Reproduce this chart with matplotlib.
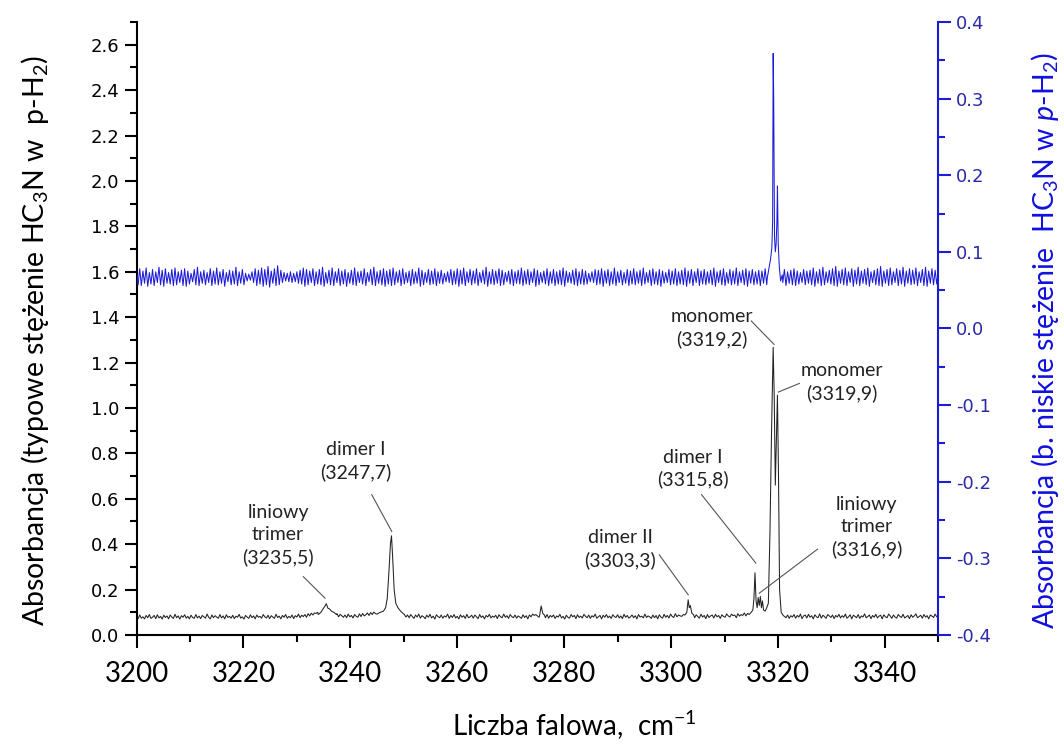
import numpy as np
import matplotlib
matplotlib.use("Agg")
import matplotlib.pyplot as plt
from matplotlib.ticker import MultipleLocator, FormatStrFormatter

plt.rcParams['font.family'] = ['Lato', 'DejaVu Sans']
plt.rcParams['mathtext.fontset'] = 'custom'
plt.rcParams['mathtext.rm'] = 'Lato'
plt.rcParams['mathtext.it'] = 'Lato:italic'

wn_start, wn_stop = 3200.0, 3350.0

# baseline read every 0.3 cm-1, in milli-absorbance (left axis, typical conc.)
black_baseline = [
    84, 72, 88, 74, 80, 71, 86, 76, 90, 73,
    78, 86, 72, 89, 75, 82, 70, 87, 77, 84,
    71, 88, 79, 73, 91, 76, 84, 70, 85, 78,
    89, 74, 82, 71, 87, 77, 73, 90, 75, 83,
    72, 86, 80, 74, 92, 78, 71, 88, 76, 85,
    79, 73, 90, 75, 84, 71, 89, 77, 82, 74,
    87, 72, 83, 78, 91, 74, 80, 70, 86, 79,
    73, 89, 76, 84, 71, 88, 78, 82, 74, 90,
    80, 75, 87, 72, 85, 79, 73, 91, 77, 83,
    71, 86, 78, 90, 74, 82, 76, 88, 72, 85,
    79, 92, 76, 87, 81, 90, 78, 94, 84, 96,
    88, 97, 95, 100, 110, 130, 140, 120, 115, 105,
    110, 100, 98, 95, 84, 94, 80, 91, 85, 78,
    88, 76, 92, 80, 86, 75, 90, 82, 78, 93,
    81, 95, 84, 89, 97, 86, 99, 90, 101, 94,
    95, 98, 105, 130, 250, 400, 300, 150, 120, 105,
    110, 102, 98, 95, 92, 89, 86, 91, 79, 88,
    76, 90, 81, 73, 88, 79, 92, 74, 85, 80,
    72, 87, 78, 91, 75, 83, 70, 89, 81, 76,
    88, 74, 84, 79, 92, 73, 86, 77, 90, 75,
    82, 71, 89, 78, 85, 73, 91, 76, 80, 87,
    74, 88, 80, 72, 90, 77, 84, 71, 86, 79,
    91, 75, 83, 78, 87, 72, 89, 80, 76, 92,
    78, 85, 73, 90, 81, 76, 88, 74, 84, 79,
    73, 89, 77, 85, 71, 88, 80, 92, 86, 90,
    84, 78, 120, 88, 81, 76, 90, 74, 86, 79,
    88, 73, 84, 79, 91, 75, 82, 70, 87, 78,
    74, 90, 80, 86, 72, 89, 77, 83, 75, 91,
    82, 76, 88, 73, 85, 79, 92, 74, 80, 86,
    71, 87, 78, 90, 76, 83, 73, 89, 81, 77,
    89, 75, 84, 72, 91, 78, 86, 74, 80, 88,
    76, 85, 71, 90, 79, 83, 75, 92, 77, 84,
    80, 73, 88, 76, 86, 71, 89, 79, 74, 91,
    78, 86, 75, 92, 82, 77, 94, 80, 88, 84,
    82, 90, 140, 120, 95, 88, 84, 91, 76, 89,
    81, 74, 92, 79, 86, 72, 90, 77, 84, 88,
    75, 91, 80, 86, 73, 89, 82, 78, 93, 84,
    79, 92, 85, 88, 76, 94, 83, 90, 86, 97,
    84, 95, 95, 130, 200, 160, 150, 160, 140, 150,
    140, 150, 300, 900, 1200, 700, 1000, 500, 150, 100,
    100, 95, 90, 85, 82, 76, 88, 73, 85, 79,
    90, 74, 86, 79, 92, 72, 84, 88, 75, 91,
    78, 85, 71, 89, 80, 76, 93, 74, 87, 81,
    73, 90, 84, 77, 88, 72, 86, 79, 91, 75,
    85, 78, 92, 74, 80, 89, 71, 87, 82, 76,
    90, 73, 84, 79, 93, 76, 81, 88, 72, 86,
    78, 91, 75, 83, 87, 71, 89, 80, 76, 92,
    84, 73, 88, 79, 74, 90, 82, 77, 91, 75,
    80, 86, 72, 89, 78, 84, 93, 76, 81, 87,
    74, 90, 79, 85, 71, 88, 83, 77, 92, 80,
    84,
]

# baseline read every 0.3 cm-1, in milli-absorbance (right axis, low conc.)
blue_baseline = [
    74, 57, 78, 56, 75, 59, 79, 55, 73, 58,
    77, 56, 74, 60, 80, 57, 76, 55, 78, 59,
    73, 58, 77, 56, 79, 57, 74, 60, 76, 56,
    78, 55, 75, 58, 72, 61, 77, 57, 80, 56,
    74, 59, 76, 57, 73, 60, 78, 56, 75, 58,
    79, 57, 74, 59, 77, 55, 73, 61, 76, 57,
    75, 58, 80, 56, 74, 59, 77, 57, 72, 62,
    71, 63, 74, 60, 78, 56, 76, 58, 79, 55,
    77, 57, 81, 54, 75, 59, 78, 56, 82, 57,
    76, 60, 73, 62, 72, 61, 74, 60, 72, 61,
    74, 59, 76, 58, 79, 55, 77, 57, 75, 60,
    78, 56, 74, 58, 77, 57, 80, 55, 73, 59,
    76, 57, 79, 56, 74, 60, 78, 56, 75, 58,
    77, 55, 73, 59, 76, 57, 79, 56, 74, 60,
    75, 58, 78, 56, 73, 61, 77, 57, 80, 56,
    74, 59, 76, 57, 78, 55, 75, 58, 77, 56,
    79, 57, 74, 60, 76, 56, 78, 58, 73, 60,
    75, 56, 77, 58, 74, 59, 79, 55, 76, 57,
    73, 60, 77, 57, 75, 58, 78, 56, 74, 59,
    76, 58, 72, 61, 74, 60, 77, 57, 75, 58,
    78, 55, 76, 58, 79, 56, 74, 60, 77, 57,
    75, 59, 78, 56, 73, 60, 76, 58, 80, 55,
    74, 58, 77, 57, 75, 59, 78, 56, 76, 57,
    73, 61, 75, 58, 77, 56, 74, 59, 76, 58,
    79, 56, 75, 58, 77, 57, 74, 60, 78, 55,
    76, 57, 73, 60, 75, 58, 78, 56, 74, 59,
    77, 56, 74, 58, 76, 57, 79, 55, 75, 60,
    73, 59, 76, 57, 78, 56, 74, 58, 77, 57,
    75, 58, 72, 61, 74, 60, 77, 57, 76, 58,
    78, 55, 75, 59, 77, 56, 74, 58, 79, 56,
    74, 60, 76, 57, 73, 59, 77, 56, 75, 58,
    78, 57, 74, 59, 76, 56, 79, 58, 73, 60,
    76, 56, 78, 58, 74, 57, 77, 55, 75, 59,
    73, 60, 77, 57, 75, 58, 78, 56, 74, 58,
    76, 57, 79, 55, 75, 59, 77, 56, 74, 60,
    78, 56, 75, 58, 77, 57, 74, 59, 76, 57,
    79, 55, 74, 60, 76, 57, 78, 56, 73, 59,
    77, 57, 75, 58, 79, 56, 74, 60, 76, 57,
    78, 55, 75, 59, 77, 57, 74, 58, 76, 56,
    75, 59, 78, 57, 74, 60, 72, 63, 70, 68,
    70, 66, 72, 60, 77, 56, 74, 59, 76, 57,
    78, 56, 75, 58, 73, 60, 77, 57, 75, 59,
    76, 57, 79, 55, 74, 59, 77, 56, 80, 57,
    74, 60, 76, 58, 78, 56, 81, 55, 75, 59,
    77, 57, 79, 56, 74, 60, 78, 55, 76, 58,
    80, 56, 75, 59, 77, 57, 79, 55, 74, 60,
    76, 57, 78, 56, 81, 55, 75, 59, 77, 56,
    79, 57, 74, 60, 78, 56, 76, 58, 80, 55,
    75, 59, 78, 57, 76, 58, 79, 56, 74, 60,
    77, 56, 80, 55, 75, 59, 78, 57, 76, 58,
    74,
]

# peak outlines (cm-1, absorbance)
trimer_3235_x = [3234.0, 3234.5, 3234.9, 3235.2, 3235.5, 3235.8, 3236.1, 3236.5, 3236.9, 3237.4]
trimer_3235_y = [0.09, 0.10, 0.115, 0.125, 0.138, 0.118, 0.115, 0.104, 0.10, 0.09]
dimer_3247_x = [3245.0, 3245.6, 3246.2, 3246.6, 3246.9, 3247.2, 3247.5, 3247.7, 3247.9,
                3248.2, 3248.5, 3248.9, 3249.4, 3250.0]
dimer_3247_y = [0.092, 0.10, 0.105, 0.12, 0.16, 0.27, 0.40, 0.437, 0.35,
                0.20, 0.14, 0.12, 0.105, 0.092]
band_3276_x = [3275.4, 3275.7, 3276.0, 3276.3]
band_3276_y = [0.085, 0.128, 0.095, 0.088]
dimer_3303_x = [3302.6, 3302.95, 3303.2, 3303.4, 3303.6, 3303.9, 3304.2]
dimer_3303_y = [0.088, 0.10, 0.155, 0.12, 0.13, 0.095, 0.09]
monomer_region_x = [3314.6, 3315.0, 3315.3, 3315.5, 3315.7, 3315.9, 3316.1, 3316.3, 3316.5,
                    3316.7, 3316.9, 3317.1, 3317.3, 3317.6, 3317.9, 3318.2, 3318.5, 3318.8,
                    3319.1, 3319.3, 3319.5, 3319.7, 3319.9, 3320.1, 3320.3, 3320.6, 3321.0]
monomer_region_y = [0.09, 0.10, 0.11, 0.16, 0.274, 0.15, 0.12, 0.165, 0.13,
                    0.17, 0.12, 0.15, 0.11, 0.105, 0.12, 0.14, 0.45, 0.90,
                    1.267, 1.05, 0.66, 0.85, 1.056, 0.70, 0.20, 0.10, 0.085]
blue_monomer_x = [3318.0, 3318.3, 3318.6, 3318.85, 3319.0, 3319.1, 3319.2, 3319.35, 3319.5,
                  3319.65, 3319.8, 3319.9, 3320.05, 3320.25, 3320.5, 3320.8]
blue_monomer_y = [0.066, 0.078, 0.09, 0.105, 0.14, 0.359, 0.30, 0.12, 0.10,
                  0.11, 0.14, 0.186, 0.11, 0.08, 0.062, 0.07]

# labels: text, text centre (x, y), leader start, leader end
label_texts = ["liniowy\ntrimer\n(3235,5)", "dimer I\n(3247,7)", "dimer II\n(3303,3)",
               "dimer I\n(3315,8)", "monomer\n(3319,2)", "monomer\n(3319,9)",
               "liniowy\ntrimer\n(3316,9)"]
label_xy = [(3226.5, 0.44), (3241.0, 0.768), (3290.45, 0.379), (3304.0, 0.733),
            (3307.6, 1.353), (3331.9, 1.115), (3336.6, 0.476)]
leader_from = [(3231.2, 0.257), (3244.0, 0.618), (3297.8, 0.353), (3305.7, 0.618),
               (3315.0, 1.383), (3324.0, 1.108), (3327.4, 0.378)]
leader_to = [(3235.27, 0.162), (3247.75, 0.456), (3303.2, 0.177), (3315.85, 0.317),
             (3319.27, 1.28), (3320.08, 1.07), (3316.5, 0.184)]


def build_trace(baseline, segments):
    gx = np.linspace(wn_start, wn_stop, len(baseline))
    gy = np.asarray(baseline, float) / 1000.0
    keep = np.ones(len(gx), bool)
    for sx, sy in segments:
        keep &= ~((gx >= sx[0]) & (gx <= sx[-1]))
    x = np.concatenate([gx[keep]] + [np.asarray(s[0], float) for s in segments])
    y = np.concatenate([gy[keep]] + [np.asarray(s[1], float) for s in segments])
    order = np.argsort(x)
    return x[order], y[order]


black_x, black_y = build_trace(black_baseline, [
    (trimer_3235_x, trimer_3235_y), (dimer_3247_x, dimer_3247_y),
    (band_3276_x, band_3276_y), (dimer_3303_x, dimer_3303_y),
    (monomer_region_x, monomer_region_y)])
blue_x, blue_y = build_trace(blue_baseline, [(blue_monomer_x, blue_monomer_y)])

blue = '#1c1cd6'

fig = plt.figure(figsize=(10.64, 7.48), dpi=100)
ax = fig.add_axes([0.1283, 0.1511, 0.7536, 0.8195])
ax2 = ax.twinx()

ax.plot(black_x, black_y, color='#222222', lw=0.75)
ax2.plot(blue_x, blue_y, color=blue, lw=0.75)

ax.set_xlim(wn_start, wn_stop)
ax.set_ylim(0, 2.7)
ax2.set_ylim(-0.4, 0.4)

ax.xaxis.set_major_locator(MultipleLocator(20))
ax.xaxis.set_minor_locator(MultipleLocator(10))
ax.yaxis.set_major_locator(MultipleLocator(0.2))
ax.yaxis.set_minor_locator(MultipleLocator(0.1))
ax.yaxis.set_major_formatter(FormatStrFormatter('%.1f'))
ax2.yaxis.set_major_locator(MultipleLocator(0.1))
ax2.yaxis.set_minor_locator(MultipleLocator(0.05))
ax2.yaxis.set_major_formatter(FormatStrFormatter('%.1f'))

for a in (ax, ax2):
    a.spines['top'].set_visible(False)
ax2.spines['left'].set_visible(False)
ax2.spines['bottom'].set_visible(False)
ax.spines['right'].set_visible(False)
for s in ('left', 'bottom'):
    ax.spines[s].set_linewidth(1.5)
ax2.spines['right'].set_linewidth(1.5)
ax2.spines['right'].set_color(blue)

ax.tick_params(axis='both', which='major', direction='out', length=9, width=1.5)
ax.tick_params(axis='both', which='minor', direction='out', length=5, width=1.5)
ax.tick_params(axis='x', labelsize=20, pad=10)
ax.tick_params(axis='y', labelsize=13)
for lab in ax.get_yticklabels():
    lab.set_fontfamily('DejaVu Sans')
ax2.tick_params(axis='y', which='major', direction='out', length=9, width=1.5,
                color=blue, labelcolor='#2a2aa8', labelsize=13)
ax2.tick_params(axis='y', which='minor', direction='out', length=5, width=1.5, color=blue)
for lab in ax2.get_yticklabels():
    lab.set_fontfamily('DejaVu Sans')

fig.text(0.540, 0.030, 'Liczba falowa,  cm$^{-1}$', ha='center', va='center', fontsize=20)
fig.text(0.033, 0.545, 'Absorbancja (typowe stężenie HC$_3$N w  p-H$_2$)',
         rotation=90, ha='center', va='center', fontsize=20.5)
fig.text(0.982, 0.545, 'Absorbancja (b. niskie stężenie  HC$_3$N w $p$-H$_2$)',
         rotation=90, ha='center', va='center', fontsize=20.5, color='#1010e0')

for txt, xy, p0, p1 in zip(label_texts, label_xy, leader_from, leader_to):
    ax.text(xy[0], xy[1], txt, ha='center', va='center', fontsize=14,
            linespacing=1.35, color='#222222')
    ax.plot([p0[0], p1[0]], [p0[1], p1[1]], color='#555555', lw=0.8)

fig.savefig('out.png', dpi=100)
